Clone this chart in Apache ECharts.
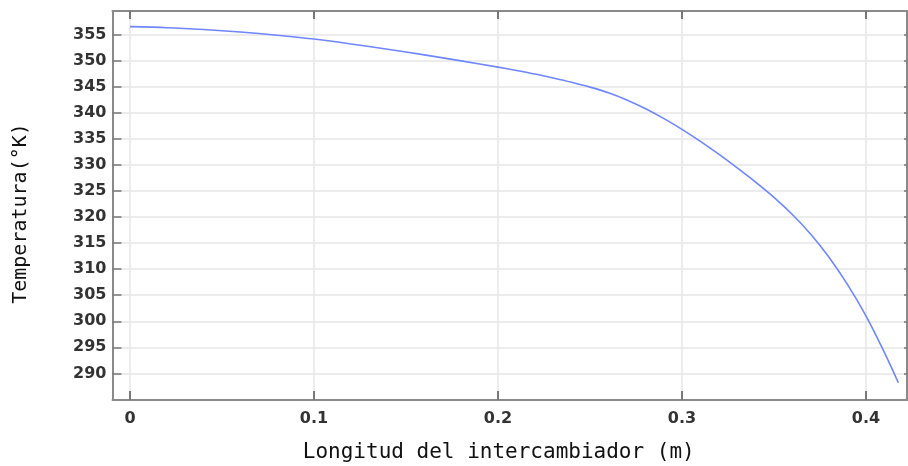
<!DOCTYPE html>
<html>
<head>
<meta charset="utf-8">
<script src="https://cdn.jsdelivr.net/npm/echarts@6/dist/echarts.min.js"></script>
<style>html,body{margin:0;padding:0;background:#fff}#c{width:908px;height:466px}</style>
</head>
<body>
<div id="c"></div>
<script>
const xValues = [0, 0.02, 0.04, 0.06, 0.08, 0.10, 0.12, 0.14, 0.16, 0.18, 0.20, 0.21, 0.22, 0.23, 0.24, 0.25, 0.26, 0.27, 0.28, 0.29, 0.30, 0.31, 0.32, 0.33, 0.34, 0.35, 0.36, 0.37, 0.38, 0.39, 0.40, 0.41, 0.4176];
const temperature = [356.5, 356.3, 355.94, 355.46, 354.86, 354.12, 353.18, 352.16, 351.08, 349.94, 348.74, 348.1, 347.42, 346.65, 345.82, 344.9, 343.82, 342.45, 340.8, 338.9, 336.8, 334.5, 332.05, 329.42, 326.7, 323.77, 320.47, 316.67, 312.22, 307.02, 301.02, 294.02, 288.2];
const xTicks = [0, 0.1, 0.2, 0.3, 0.4];
const yTicks = [290, 295, 300, 305, 310, 315, 320, 325, 330, 335, 340, 345, 350, 355];
const xTitle = 'Longitud del intercambiador (m)';
const yTitle = 'Temperatura(°K)';

const chart = echarts.init(document.getElementById('c'), null, {renderer: 'canvas'});
const labelStyle = {fontFamily: 'DejaVu Sans', fontSize: 16, color: '#333', fontWeight: 'bold'};
const axisLineStyle = {color: '#8a8a8a', width: 2};
chart.setOption({
  animation: false,
  grid: {left: 112.5, right: 1, top: 11, bottom: 66, containLabel: false, outerBoundsMode: 'none'},
  xAxis: [{
    type: 'value', min: -0.0095, max: 0.4223, position: 'bottom',
    name: xTitle, nameLocation: 'middle', nameGap: 42,
    nameTextStyle: {fontFamily: 'DejaVu Sans Mono', fontSize: 21, color: '#111', padding: [0, 22, 0, 0]},
    axisLine: {show: true, onZero: false, lineStyle: axisLineStyle},
    axisTick: {show: true, inside: true, length: 9, customValues: xTicks, lineStyle: {color: '#777', width: 2}},
    axisLabel: Object.assign({customValues: xTicks, margin: 11, formatter: v => String(v)}, labelStyle),
    splitLine: {show: true, customValues: xTicks, lineStyle: {color: '#e6e6e6', width: 1.5}}
  }, {
    type: 'value', min: -0.0095, max: 0.4223, position: 'top',
    axisLine: {show: true, onZero: false, lineStyle: axisLineStyle},
    axisTick: {show: true, inside: true, length: 8, customValues: xTicks, lineStyle: {color: '#777', width: 2}},
    axisLabel: {show: false}, splitLine: {show: false}
  }],
  yAxis: [{
    type: 'value', min: 284.9, max: 359.5, position: 'left',
    name: yTitle, nameLocation: 'middle', nameGap: 82, nameRotate: 90,
    nameTextStyle: {fontFamily: 'DejaVu Sans Mono', fontSize: 20, color: '#111', padding: [0, 16, 0, 0]},
    axisLine: {show: true, onZero: false, lineStyle: axisLineStyle},
    axisTick: {show: true, inside: true, length: 9, customValues: yTicks, lineStyle: {color: '#777', width: 1.5}},
    axisLabel: Object.assign({customValues: yTicks, margin: 6}, labelStyle),
    splitLine: {show: true, customValues: yTicks, lineStyle: {color: '#e6e6e6', width: 1.5}}
  }, {
    type: 'value', min: 284.9, max: 359.5, position: 'right',
    axisLine: {show: true, onZero: false, lineStyle: axisLineStyle},
    axisTick: {show: true, inside: true, length: 3, customValues: yTicks, lineStyle: {color: '#777', width: 1.5}},
    axisLabel: {show: false}, splitLine: {show: false}
  }],
  series: [{
    type: 'line', xAxisIndex: 0, yAxisIndex: 0,
    data: xValues.map((x, i) => [x, temperature[i]]),
    smooth: 0.3, showSymbol: false, symbol: 'none',
    lineStyle: {color: '#6f86ff', width: 1.6}
  }]
});
</script>
</body>
</html>
